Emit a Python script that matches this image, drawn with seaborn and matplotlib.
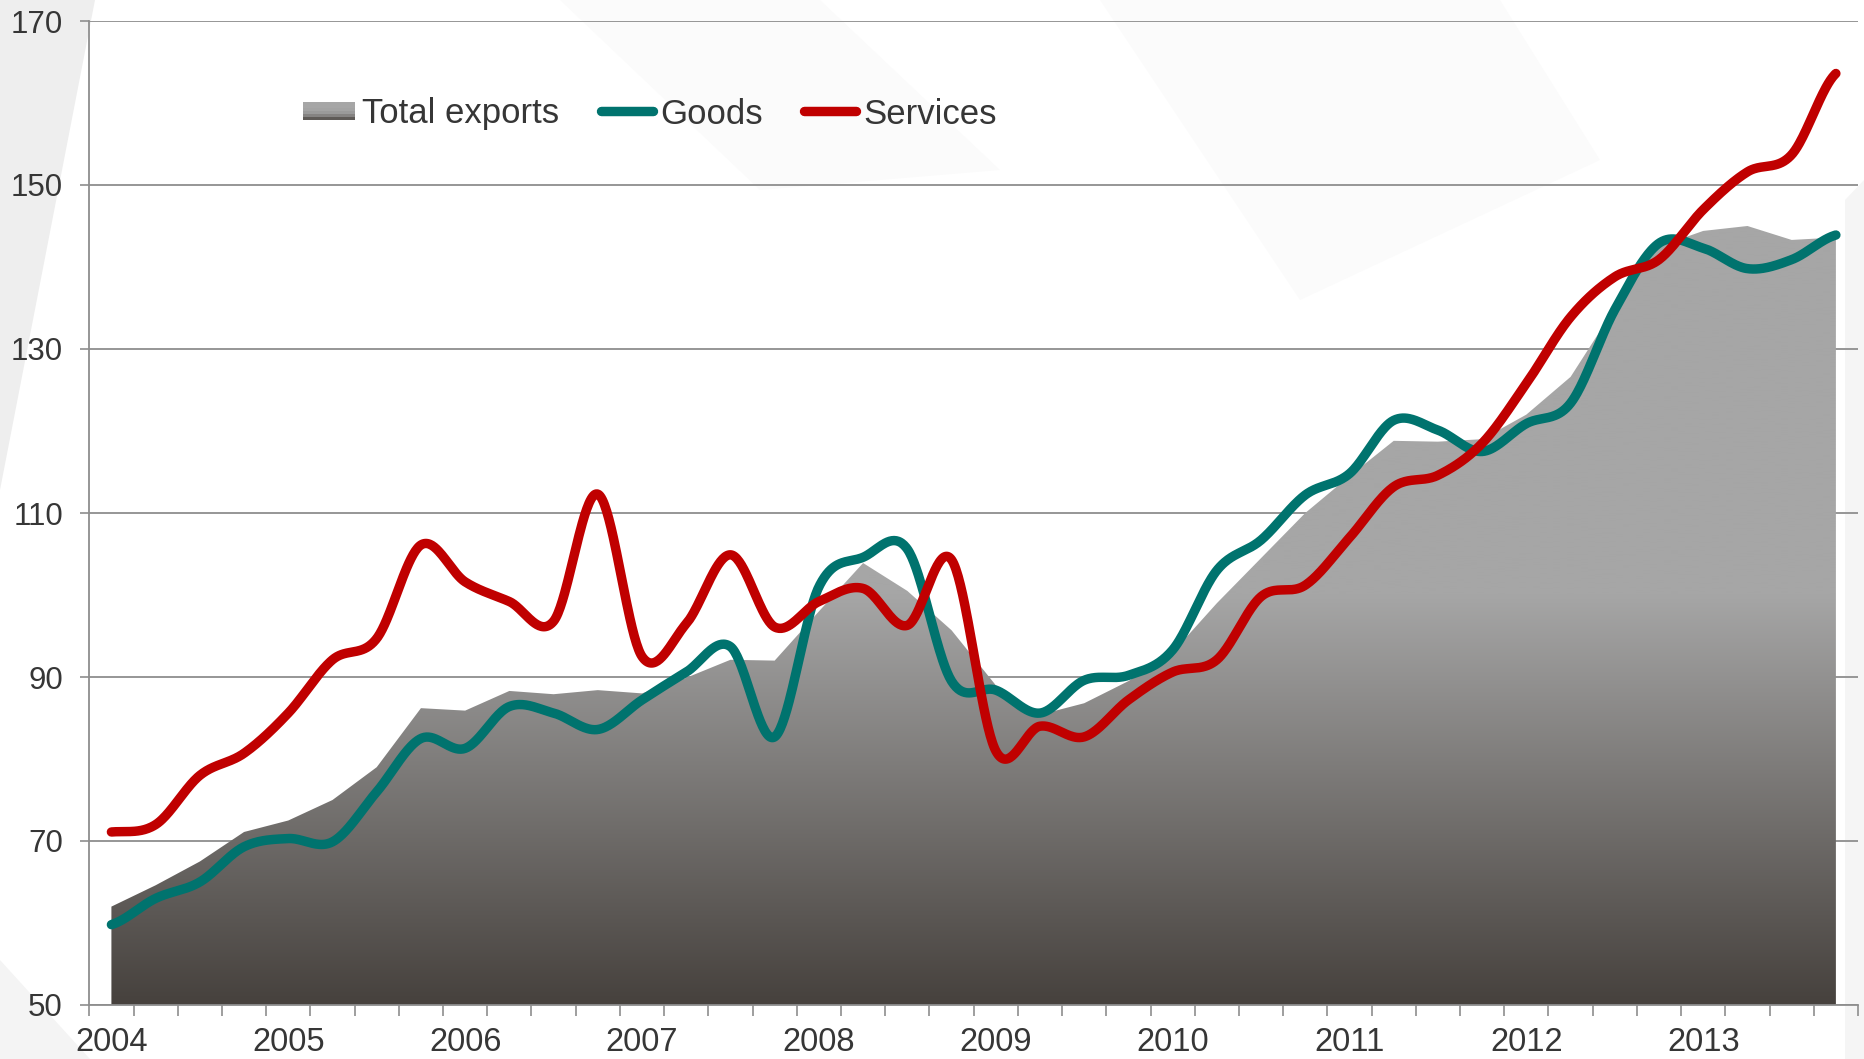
import numpy as np
import pandas as pd
import matplotlib
matplotlib.use("Agg")
import matplotlib.pyplot as plt
import seaborn as sns
from matplotlib.patches import Polygon, Rectangle
from matplotlib.legend_handler import HandlerBase
from matplotlib.lines import Line2D
from matplotlib.colors import to_rgb

# ---- data: quarterly export indices, 2004Q1 - 2013Q4 ----
years = list(range(2004, 2014))
quarters = [f"{y}Q{q}" for y in years for q in range(1, 5)]

total_exports = [62.0, 64.6, 67.5, 71.1, 72.5, 75.0, 79.0, 86.2, 85.9, 88.3,
                 87.9, 88.4, 88.0, 89.9, 92.1, 92.0, 98.0, 103.9, 100.5, 95.7,
                 89.0, 85.4, 86.8, 89.5, 93.0, 99.0, 104.5, 110.0, 114.5, 118.8,
                 118.7, 119.0, 122.0, 126.6, 135.0, 142.5, 144.4, 145.0, 143.3, 143.6]

goods = [59.8, 63.0, 65.0, 69.3, 70.3, 69.9, 76.0, 82.5, 81.3, 86.4,
         85.6, 83.6, 87.2, 90.6, 93.7, 82.7, 101.0, 104.6, 105.6, 89.5,
         88.4, 85.6, 89.6, 90.2, 93.3, 103.0, 106.7, 112.2, 114.8, 121.3,
         120.1, 117.5, 120.9, 123.4, 134.8, 142.9, 142.3, 139.8, 140.9, 143.9]

services = [71.1, 72.0, 78.0, 80.7, 85.6, 92.1, 94.7, 106.1, 101.6, 99.2,
            96.8, 112.3, 92.5, 96.5, 104.9, 96.1, 99.2, 100.8, 96.3, 104.3,
            81.0, 84.0, 82.7, 87.2, 90.6, 92.1, 99.8, 101.2, 107.0, 113.2,
            114.6, 118.5, 125.8, 133.9, 138.8, 140.9, 147.0, 151.6, 153.7, 163.6]

y_ticks = [50, 70, 90, 110, 130, 150, 170]
series_names = ["Total exports", "Goods", "Services"]

GOODS_C = "#00736E"
SERV_C = "#C00000"
TEXT_C = "#363636"
GRID_C = "#8E8E8E"
LINE_W = 6.8


def smooth_curve(values, n=40):
    """Catmull-Rom smoothing through the quarterly points."""
    v = np.asarray(values, float)
    ext = np.concatenate([[v[0]], v, [v[-1]]])
    xs, ys = [], []
    t = np.linspace(0, 1, n, endpoint=False)
    for i in range(len(v) - 1):
        p0, p1, p2, p3 = ext[i], ext[i + 1], ext[i + 2], ext[i + 3]
        m1 = (p2 - p0) / 2.0
        m2 = (p3 - p1) / 2.0
        h00 = 2 * t**3 - 3 * t**2 + 1
        h10 = t**3 - 2 * t**2 + t
        h01 = -2 * t**3 + 3 * t**2
        h11 = t**3 - t**2
        xs.append(i + t)
        ys.append(h00 * p1 + h10 * m1 + h01 * p2 + h11 * m2)
    xs.append(np.array([len(v) - 1.0]))
    ys.append(np.array([v[-1]]))
    return np.concatenate(xs), np.concatenate(ys)


sns.set_theme(style="white")
plt.rcParams["font.family"] = ["Liberation Sans", "DejaVu Sans"]

W, H = 1864, 1059
fig = plt.figure(figsize=(W / 100, H / 100), dpi=100)
fig.patch.set_facecolor("white")


def fpoly(pts, color):
    # pts in pixel coords measured from the top-left corner
    arr = [(x / W, 1 - y / H) for x, y in pts]
    fig.patches.append(Polygon(arr, closed=True, transform=fig.transFigure,
                               facecolor=color, edgecolor="none", zorder=-10))


# soft decorative backdrop
fpoly([(0, 0), (95, 0), (0, 490)], "#EEEEEE")
fpoly([(0, 1059), (0, 960), (90, 1059)], "#F4F4F4")
fpoly([(560, 0), (820, 0), (1000, 170), (760, 190)], "#FBFBFB")
fpoly([(1100, 0), (1500, 0), (1600, 160), (1300, 300)], "#FBFBFB")
fpoly([(1845, 200), (1864, 180), (1864, 1059), (1845, 1059)], "#F5F5F5")

ax = fig.add_axes([89.3 / W, 1 - 1005 / H, (1858 - 89.3) / W, (1005 - 21) / H])
ax.set_facecolor("none")

x = np.arange(len(quarters))

# Total exports: area with a vertical grey gradient
fill = ax.fill_between(x, 50, total_exports, facecolor="none", edgecolor="none", zorder=2)
top_c = np.array(to_rgb("#A6A6A6"))
bot_c = np.array(to_rgb("#46413D"))
yy = np.linspace(50, 170, 600)
frac = np.clip((yy - 50) / (100 - 50), 0, 1)[:, None]
grad = (bot_c * (1 - frac) + top_c * frac)[:, None, :]
im = ax.imshow(grad, extent=[-0.5, 39.5, 50, 170], origin="lower",
               aspect="auto", zorder=2, interpolation="bilinear")
im.set_clip_path(fill.get_paths()[0], transform=ax.transData)

# Goods and services: smoothed lines
gx, gy = smooth_curve(goods)
sx, sy = smooth_curve(services)
df_lines = pd.concat([
    pd.DataFrame({"x": gx, "value": gy, "series": series_names[1]}),
    pd.DataFrame({"x": sx, "value": sy, "series": series_names[2]}),
])
for name, col in [(series_names[1], GOODS_C), (series_names[2], SERV_C)]:
    sub = df_lines[df_lines["series"] == name]
    sns.lineplot(data=sub, x="x", y="value", ax=ax, color=col, lw=LINE_W,
                 sort=False, estimator=None, legend=False, zorder=4,
                 solid_capstyle="round")

ax.set_xlim(-0.5, 39.5)
ax.set_ylim(50, 170)
ax.set_xlabel("")
ax.set_ylabel("")

# axes styling
ax.set_yticks(y_ticks)
ax.set_yticklabels([str(v) for v in y_ticks])
ax.yaxis.grid(True, color=GRID_C, lw=1.3, zorder=0)
ax.xaxis.grid(False)
ax.set_axisbelow(True)
for s in ["top", "right"]:
    ax.spines[s].set_visible(False)
for s in ["left", "bottom"]:
    ax.spines[s].set_visible(True)
    ax.spines[s].set_color(GRID_C)
    ax.spines[s].set_linewidth(1.3)
    ax.spines[s].set_zorder(3)

ax.set_xticks([4 * k for k in range(len(years))])
ax.set_xticklabels([str(y) for y in years])
ax.set_xticks(np.arange(-0.5, 40, 1.0), minor=True)
ax.tick_params(axis="x", which="major", length=0, pad=16, labelsize=23.5, labelcolor=TEXT_C)
ax.tick_params(axis="x", which="minor", length=8, width=1.2, color=GRID_C, direction="out", bottom=True)
ax.tick_params(axis="y", which="major", length=6.5, width=1.2, color=GRID_C, direction="out",
               pad=12.5, labelsize=22.5, labelcolor=TEXT_C, left=True)


class GradientPatchHandler(HandlerBase):
    def create_artists(self, legend, orig_handle, xdescent, ydescent, width, height, fontsize, trans):
        cols = ["#A6A6A6", "#A6A6A6", "#A3A3A3", "#9A9A9A", "#858382", "#5E5A57"]
        n = len(cols)
        h = height * 0.72
        y0 = -ydescent + (height - h) / 2
        arts = []
        for k, c in enumerate(cols):
            arts.append(Rectangle((-xdescent, y0 + h * (n - 1 - k) / n), width, h / n + 0.3,
                                  facecolor=c, edgecolor="none", transform=trans))
        return arts


area_handle = Rectangle((0, 0), 1, 1, facecolor="#A6A6A6")
handles = [area_handle,
           Line2D([], [], color=GOODS_C, lw=LINE_W, solid_capstyle="round"),
           Line2D([], [], color=SERV_C, lw=LINE_W, solid_capstyle="round")]
leg = fig.legend(handles, series_names, loc="center left",
                 bbox_to_anchor=(303 / W, 1 - 114 / H), ncol=3, frameon=False,
                 fontsize=25, handlelength=1.5, handletextpad=0.2, columnspacing=1.2,
                 borderpad=0, borderaxespad=0, handler_map={Rectangle: GradientPatchHandler()})
for t in leg.get_texts():
    t.set_color(TEXT_C)

fig.savefig("out.png", dpi=100)
